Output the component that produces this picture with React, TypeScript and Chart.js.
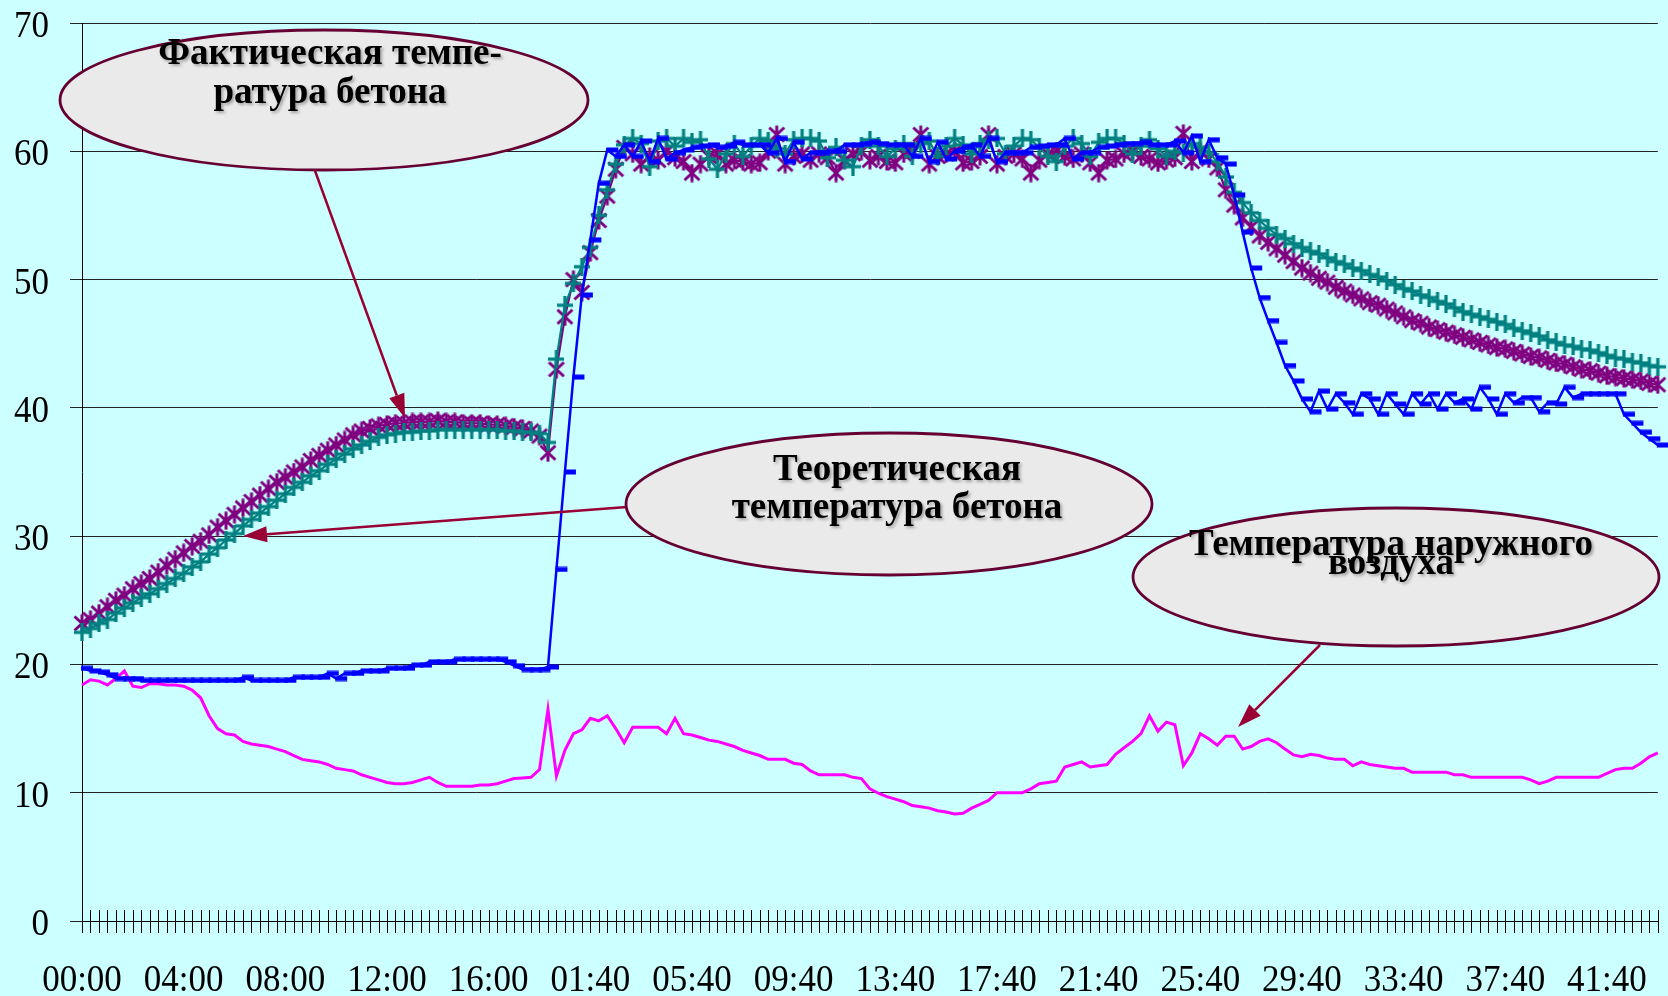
import React, { useEffect, useRef } from 'react';
import { Chart, registerables } from 'chart.js';

Chart.register(...registerables);

// ---- tick labels (one label every 12 readings) ----
const TICK_LABELS = ['00:00', '04:00', '08:00', '12:00', '16:00', '01:40', '05:40', '09:40', '13:40', '17:40', '21:40', '25:40', '29:40', '33:40', '37:40', '41:40'];
const LABEL_STEP = 12;

// ---- series (one value per reading) ----
const BLUE = [
  19.7, 19.5, 19.4, 19.2, 18.9, 18.9, 18.9, 18.75, 18.75, 18.75,
  18.75, 18.75, 18.75, 18.75, 18.75, 18.75, 18.75, 18.75, 18.75, 19.0,
  18.75, 18.75, 18.75, 18.75, 18.75, 19.0, 19.0, 19.0, 19.0, 19.3,
  18.9, 19.3, 19.3, 19.5, 19.5, 19.5, 19.7, 19.7, 19.7, 19.95,
  19.95, 20.2, 20.2, 20.2, 20.4, 20.4, 20.4, 20.4, 20.4, 20.4,
  20.2, 19.9, 19.6, 19.6, 19.6, 19.8, 27.4, 35.0, 42.4, 48.8,
  53.1, 57.5, 60.1, 59.6, 60.5, 59.6, 60.8, 59.2, 61.0, 59.4,
  59.9, 60.1, 60.3, 60.4, 60.5, 60.3, 60.4, 60.7, 60.5, 60.5,
  60.5, 59.9, 61.0, 59.2, 60.7, 59.4, 59.9, 59.9, 60.0, 60.0,
  60.5, 60.5, 60.6, 60.7, 60.6, 60.5, 60.5, 60.5, 59.6, 61.0,
  59.2, 60.7, 59.4, 60.0, 60.3, 60.5, 59.6, 61.0, 59.2, 59.9,
  59.9, 59.9, 60.3, 60.4, 60.5, 60.5, 61.0, 59.4, 59.9, 59.9,
  60.3, 60.4, 60.5, 60.6, 60.6, 60.7, 60.5, 60.5, 60.5, 60.8,
  59.9, 61.2, 59.2, 60.9, 59.5, 59.0, 56.6, 53.7, 50.9, 48.6,
  46.8, 45.1, 43.3, 42.1, 40.7, 39.7, 41.3, 39.9, 41.1, 40.4,
  39.5, 41.1, 40.7, 39.5, 41.1, 40.3, 39.5, 41.1, 40.3, 41.1,
  39.9, 41.1, 40.4, 40.7, 39.9, 41.6, 40.7, 39.5, 41.1, 40.4,
  40.8, 40.8, 39.7, 40.4, 40.3, 41.6, 40.8, 41.1, 41.1, 41.1,
  41.1, 41.1, 39.5, 38.8, 38.1, 37.6, 37.1,
];

const TEAL = [
  22.5, 22.8, 23.2, 23.5, 24.0, 24.4, 24.8, 25.2, 25.5, 25.9,
  26.3, 26.7, 27.1, 27.6, 28.0, 28.6, 29.1, 29.7, 30.2, 30.8,
  31.3, 31.8, 32.3, 32.8, 33.3, 33.8, 34.2, 34.7, 35.1, 35.6,
  36.0, 36.4, 36.8, 37.1, 37.4, 37.7, 37.9, 38.0, 38.1, 38.1,
  38.2, 38.2, 38.3, 38.3, 38.3, 38.3, 38.3, 38.3, 38.3, 38.3,
  38.2, 38.2, 38.1, 38.1, 38.0, 37.3, 43.8, 48.0, 49.7, 51.0,
  52.5, 55.0, 57.0, 59.0, 60.5, 61.0, 60.6, 58.8, 60.8, 61.0,
  60.4, 61.0, 60.7, 60.9, 59.4, 58.6, 59.8, 60.6, 59.6, 60.4,
  61.0, 60.8, 60.2, 59.8, 60.9, 61.0, 61.0, 60.8, 59.5, 60.3,
  59.3, 58.8, 60.4, 60.9, 60.4, 59.6, 60.2, 60.6, 59.6, 60.6,
  60.8, 59.6, 60.4, 61.0, 60.5, 59.8, 60.6, 60.9, 61.0, 59.8,
  60.4, 61.0, 60.9, 60.3, 59.6, 59.2, 60.4, 61.0, 60.6, 59.6,
  60.7, 61.0, 61.0, 60.6, 59.8, 60.4, 60.9, 60.2, 59.6, 60.0,
  59.9, 60.6, 60.3, 59.9, 59.2, 58.0, 56.8, 56.0, 55.2, 54.6,
  54.0, 53.5, 53.2, 52.8, 52.5, 52.2, 52.0, 51.7, 51.4, 51.2,
  50.9, 50.7, 50.4, 50.2, 49.9, 49.6, 49.3, 49.1, 48.8, 48.6,
  48.3, 48.1, 47.8, 47.5, 47.3, 47.1, 46.9, 46.7, 46.5, 46.2,
  46.0, 45.8, 45.6, 45.3, 45.1, 44.9, 44.8, 44.6, 44.5, 44.3,
  44.1, 43.9, 43.8, 43.6, 43.5, 43.3, 43.2,
];

const PURPLE = [
  23.2, 23.5, 24.0, 24.5, 25.0, 25.4, 25.9, 26.3, 26.7, 27.2,
  27.7, 28.2, 28.7, 29.2, 29.6, 30.1, 30.7, 31.2, 31.7, 32.2,
  32.7, 33.2, 33.7, 34.2, 34.6, 35.0, 35.4, 35.9, 36.3, 36.7,
  37.1, 37.5, 37.9, 38.2, 38.4, 38.6, 38.7, 38.8, 38.8, 38.9,
  38.9, 38.9, 39.0, 38.9, 38.9, 38.8, 38.8, 38.8, 38.7, 38.7,
  38.6, 38.5, 38.4, 38.2, 37.8, 36.5, 43.0, 47.1, 50.0, 49.0,
  52.1, 54.6, 56.5, 58.6, 60.3, 59.8, 59.0, 59.6, 59.3, 60.0,
  59.5, 59.2, 58.3, 59.0, 59.6, 59.8, 59.0, 59.3, 59.2, 59.0,
  59.1, 60.0, 61.3, 59.0, 59.6, 59.8, 59.3, 59.8, 59.5, 58.3,
  59.3, 59.8, 60.0, 59.3, 59.6, 59.2, 59.1, 59.8, 60.0, 61.3,
  59.0, 59.6, 59.8, 60.0, 59.1, 59.2, 59.6, 61.3, 59.0, 59.6,
  59.8, 59.4, 58.3, 59.3, 59.8, 60.0, 59.6, 59.4, 59.8, 59.1,
  58.3, 59.3, 59.4, 59.8, 60.0, 59.6, 59.4, 59.1, 59.3, 59.5,
  61.4, 59.2, 60.0, 59.4, 58.7, 57.0, 55.8, 54.8, 54.1, 53.4,
  52.9, 52.4, 51.9, 51.4, 50.9, 50.5, 50.1, 49.8, 49.4, 49.1,
  48.8, 48.5, 48.2, 48.0, 47.7, 47.4, 47.1, 46.8, 46.6, 46.3,
  46.1, 45.9, 45.7, 45.5, 45.3, 45.1, 44.9, 44.7, 44.6, 44.4,
  44.2, 44.0, 43.9, 43.7, 43.5, 43.4, 43.2, 43.0, 42.9, 42.7,
  42.5, 42.4, 42.3, 42.2, 42.1, 41.9, 41.8,
];

const AIR = [
  18.4, 18.8, 18.7, 18.4, 18.9, 19.5, 18.3, 18.2, 18.5, 18.5,
  18.4, 18.4, 18.3, 18.0, 17.4, 16.0, 15.0, 14.6, 14.5, 14.0,
  13.8, 13.7, 13.6, 13.4, 13.2, 12.9, 12.6, 12.5, 12.4, 12.2,
  11.9, 11.8, 11.7, 11.4, 11.2, 11.0, 10.8, 10.7, 10.7, 10.8,
  11.0, 11.2, 10.8, 10.5, 10.5, 10.5, 10.5, 10.6, 10.6, 10.7,
  10.9, 11.1, 11.15, 11.2, 11.8, 16.5, 11.3, 13.3, 14.6, 14.9,
  15.8, 15.6, 16.0, 15.0, 13.9, 15.1, 15.1, 15.1, 15.1, 14.6,
  15.8, 14.6, 14.5, 14.3, 14.1, 14.0, 13.8, 13.6, 13.3, 13.1,
  12.9, 12.6, 12.6, 12.6, 12.3, 12.2, 11.7, 11.4, 11.4, 11.4,
  11.4, 11.2, 11.1, 10.3, 9.96, 9.7, 9.5, 9.3, 9.0, 8.9,
  8.8, 8.6, 8.5, 8.35, 8.4, 8.8, 9.1, 9.4, 10.0, 10.0,
  10.0, 10.0, 10.3, 10.7, 10.8, 10.9, 12.0, 12.2, 12.4, 12.0,
  12.1, 12.2, 13.0, 13.5, 14.0, 14.6, 16.0, 14.8, 15.5, 15.3,
  12.1, 13.1, 14.6, 14.2, 13.7, 14.4, 14.4, 13.4, 13.6, 14.0,
  14.2, 13.9, 13.4, 12.95, 12.8, 13.0, 12.9, 12.7, 12.6, 12.6,
  12.1, 12.4, 12.2, 12.1, 12.0, 11.9, 11.9, 11.6, 11.6, 11.6,
  11.6, 11.6, 11.4, 11.4, 11.2, 11.2, 11.2, 11.2, 11.2, 11.2,
  11.2, 11.0, 10.7, 10.9, 11.2, 11.2, 11.2, 11.2, 11.2, 11.2,
  11.5, 11.8, 11.9, 11.9, 12.3, 12.8, 13.1,
];

// ---- callout texts ----
const CALLOUT_FACT = ['Фактическая темпе-', 'ратура бетона'];
const CALLOUT_THEORY = ['Теоретическая', 'температура бетона'];
const CALLOUT_AIR = ['Температура наружного', 'воздуха'];

const SERIF = '"Liberation Serif", "Times New Roman", serif';
const STRETCH = 1.09; // the original glyphs are slightly taller than wide

function makeAsterisk(color: string) {
  const c = document.createElement('canvas');
  c.width = 18; c.height = 19;
  const g = c.getContext('2d')!;
  g.strokeStyle = color; g.lineWidth = 3;
  g.beginPath();
  g.moveTo(1.5, 2.5); g.lineTo(16.5, 16.5);
  g.moveTo(16.5, 2.5); g.lineTo(1.5, 16.5);
  g.moveTo(9, 0.5); g.lineTo(9, 18.5);
  g.stroke();
  return c;
}
function makePlus(color: string) {
  const c = document.createElement('canvas');
  c.width = 16; c.height = 18;
  const g = c.getContext('2d')!;
  g.fillStyle = color;
  g.fillRect(0, 7.4, 16, 3.2);
  g.fillRect(6.4, 0, 3.2, 18);
  return c;
}
function makeDash(color: string) {
  // dash drawn from the point to the right
  const c = document.createElement('canvas');
  c.width = 26; c.height = 6;
  const g = c.getContext('2d')!;
  g.fillStyle = color;
  g.fillRect(12, 0.5, 12, 5);
  return c;
}

const bgPlugin = {
  id: 'bg',
  beforeDraw(chart: any) {
    const { ctx, width, height } = chart;
    ctx.save();
    ctx.fillStyle = '#CCFFFF';
    ctx.fillRect(0, 0, width, height);
    ctx.restore();
  },
};

function stretchedText(ctx: CanvasRenderingContext2D, text: string, x: number, baseline: number, align: CanvasTextAlign) {
  ctx.save();
  ctx.translate(x, baseline);
  ctx.scale(1, STRETCH);
  ctx.textAlign = align;
  ctx.textBaseline = 'alphabetic';
  ctx.fillText(text, 0, 0);
  ctx.restore();
}

const axisPlugin = {
  id: 'axisDecor',
  beforeDatasetsDraw(chart: any) {
    const { ctx, chartArea } = chart;
    const xs = chart.scales.x;
    const ys = chart.scales.y;
    const y0 = chartArea.bottom;
    ctx.save();
    // tick marks crossing the category axis
    ctx.strokeStyle = '#000';
    ctx.lineWidth = 1;
    ctx.beginPath();
    for (let i = 0; i < xs.ticks.length; i++) {
      const x = Math.round(xs.getPixelForTick(i)) + 0.5;
      ctx.moveTo(x, y0 - 11);
      ctx.lineTo(x, y0 + 12);
    }
    ctx.stroke();
    // labels
    ctx.fillStyle = '#000';
    ctx.font = `35px ${SERIF}`;
    ys.ticks.forEach((t: any) => {
      const y = ys.getPixelForValue(t.value);
      stretchedText(ctx, String(t.value), 49, y + 14, 'right');
    });
    xs.ticks.forEach((t: any, i: number) => {
      const lab = xs.getLabelForValue(i);
      if (!lab) return;
      stretchedText(ctx, lab, xs.getPixelForTick(i), 991, 'center');
    });
    ctx.restore();
  },
};

function arrow(ctx: CanvasRenderingContext2D, x1: number, y1: number, x2: number, y2: number) {
  const ang = Math.atan2(y2 - y1, x2 - x1);
  const hl = 24, hw = 8;
  const bx = x2 - hl * Math.cos(ang), by = y2 - hl * Math.sin(ang);
  ctx.beginPath();
  ctx.moveTo(x1, y1);
  ctx.lineTo(bx, by);
  ctx.stroke();
  ctx.beginPath();
  ctx.moveTo(x2, y2);
  ctx.lineTo(bx + hw * Math.sin(ang), by - hw * Math.cos(ang));
  ctx.lineTo(bx - hw * Math.sin(ang), by + hw * Math.cos(ang));
  ctx.closePath();
  ctx.fill();
}

function ellipse(ctx: CanvasRenderingContext2D, cx: number, cy: number, rx: number, ry: number) {
  ctx.beginPath();
  ctx.ellipse(cx, cy, rx, ry, 0, 0, Math.PI * 2);
  ctx.fillStyle = '#EAEAEA';
  ctx.fill();
  ctx.lineWidth = 2.8;
  ctx.strokeStyle = '#660033';
  ctx.stroke();
}

function texts(ctx: CanvasRenderingContext2D, lines: string[], cx: number, ys: number[]) {
  ctx.save();
  ctx.font = `bold 37px ${SERIF}`;
  ctx.fillStyle = '#000';
  ctx.textAlign = 'center';
  ctx.textBaseline = 'alphabetic';
  ctx.shadowColor = 'rgba(0,0,0,0.3)';
  ctx.shadowBlur = 3;
  ctx.shadowOffsetX = 2;
  ctx.shadowOffsetY = 2;
  lines.forEach((t, k) => ctx.fillText(t, cx, ys[k]));
  ctx.restore();
}

const calloutPlugin = {
  id: 'callouts',
  afterDatasetsDraw(chart: any) {
    const ctx: CanvasRenderingContext2D = chart.ctx;
    ctx.save();
    ctx.strokeStyle = '#990033';
    ctx.fillStyle = '#990033';
    ctx.lineWidth = 2.5;
    arrow(ctx, 314, 168, 405, 418);
    arrow(ctx, 627, 507, 243, 536);
    arrow(ctx, 1320, 645, 1238, 727);
    ellipse(ctx, 324, 100, 264, 70);
    ellipse(ctx, 889, 504, 263, 71);
    ellipse(ctx, 1396, 577, 263, 69);
    texts(ctx, CALLOUT_FACT, 330, [64, 103]);
    texts(ctx, CALLOUT_THEORY, 897, [480, 518]);
    texts(ctx, CALLOUT_AIR, 1391, [555, 574]);
    ctx.restore();
  },
};

export default function App() {
  const ref = useRef<HTMLCanvasElement>(null);
  useEffect(() => {
    document.body.style.margin = '0';
    const canvas = ref.current!;
    const labels = PURPLE.map((_, i) => (i % LABEL_STEP === 0 ? TICK_LABELS[i / LABEL_STEP] ?? '' : ''));
    const chart = new Chart(canvas, {
      type: 'line',
      data: {
        labels,
        datasets: [
          {
            data: BLUE, borderColor: '#0000FF', borderWidth: 2.5, tension: 0,
            pointStyle: makeDash('#0000FF') as any, pointRadius: 6, clip: false as any,
          },
          {
            data: TEAL, borderColor: '#008080', borderWidth: 2.2, tension: 0,
            pointStyle: makePlus('#008080') as any, pointRadius: 8, clip: false as any,
          },
          {
            data: PURPLE, borderColor: '#800080', borderWidth: 2.2, tension: 0,
            pointStyle: makeAsterisk('#800080') as any, pointRadius: 8, clip: false as any,
          },
          {
            data: AIR, borderColor: '#FF00FF', borderWidth: 3, tension: 0, pointRadius: 0,
          },
        ],
      },
      options: {
        responsive: false,
        animation: false,
        events: [],
        layout: { padding: { top: 23, right: 3, left: 0, bottom: 0 } },
        plugins: { legend: { display: false }, tooltip: { enabled: false }, title: { display: false } },
        scales: {
          x: {
            type: 'category',
            offset: false,
            grid: { display: false, drawTicks: false },
            border: { display: true, color: '#000', width: 1 },
            ticks: { display: false, autoSkip: false, maxRotation: 0, minRotation: 0 },
            afterFit: (s: any) => { s.height = 75; s.paddingLeft = 0; s.paddingRight = 0; },
          },
          y: {
            min: 0, max: 70,
            grid: { color: '#222', lineWidth: 1, drawTicks: true, tickLength: 12 },
            border: { display: true, color: '#000', width: 1 },
            ticks: { display: false, stepSize: 10 },
            afterFit: (s: any) => { s.width = 82; s.paddingTop = 0; s.paddingBottom = 0; },
          },
        },
      },
      plugins: [bgPlugin, axisPlugin, calloutPlugin],
    });
    return () => chart.destroy();
  }, []);
  return (
    <div style={{ width: 1668, height: 996 }}>
      <canvas ref={ref} width={1668} height={996} style={{ display: 'block' }} />
    </div>
  );
}
